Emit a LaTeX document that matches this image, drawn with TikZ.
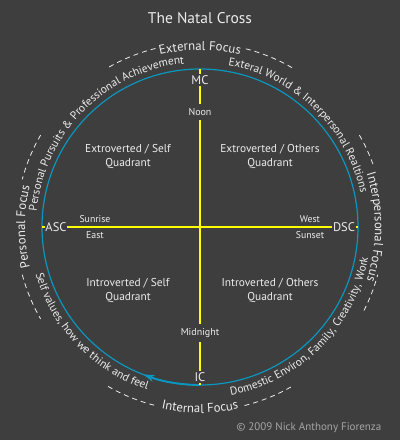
\documentclass[tikz,border=0pt]{standalone}
\usepackage{fontspec}
\setmainfont{PT Sans}
\usepackage{tikz}
\usetikzlibrary{positioning,calc,decorations.text,arrows.meta}
\definecolor{chartbg}{RGB}{62,62,62}
\definecolor{wheelblue}{RGB}{10,150,190}
\definecolor{crossyellow}{RGB}{255,255,0}
\definecolor{labelwhite}{RGB}{236,236,236}
\definecolor{creditgray}{RGB}{165,165,165}
\newcommand{\arcsmall}{\fontsize{11.4}{13}\selectfont}
\newcommand{\arcbig}{\fontsize{12.8}{15}\selectfont}

\begin{document}
\begin{tikzpicture}[x=1pt, y=1pt,
        % wheel and cross; the cross stops at the label borders
        wheel/.style={draw=wheelblue, line width=1.2pt},
        crossline/.style={draw=crossyellow, line width=2.4pt},
        cardinal/.style={text=labelwhite, font=\fontsize{12.5}{14}\selectfont, inner sep=1.5pt},
        timelbl/.style={text=labelwhite, font=\fontsize{10}{12}\selectfont, inner sep=4.5pt},
        sunlbl/.style={text=labelwhite, font=\fontsize{9.8}{11}\selectfont},
        quad/.style={text=labelwhite, align=center, font=\fontsize{11.4}{14}\selectfont},
        arctext/.style={decorate, decoration={text along path, text align=center,
            text={|\color{labelwhite}|#1}}},
        focusdash/.style={draw=labelwhite, line width=0.8pt, dash pattern=on 5pt off 4pt}
    ]
        \path[use as bounding box, fill=chartbg] (-200,-213) rectangle (200,227);

        \node[text=labelwhite, font=\fontsize{15.5}{18}\selectfont] (title) at (0,209) {The Natal Cross};

        % the wheel
        \draw[wheel] (0,0) circle[radius=158];
        \coordinate (top) at (90:158);
        \coordinate (bottom) at (270:158);
        \coordinate (west) at (180:158);
        \coordinate (east) at (0:158);
        \draw[wheel, line width=1.9pt, -{Stealth[length=11pt, width=7pt, inset=3pt]}]
            (bottom) arc[start angle=270, end angle=249, radius=158];

        % angles and times of day
        \node[cardinal] (mc) at (0,147) {MC};
        \node[cardinal] (ic) at (0,-150) {IC};
        \node[cardinal, inner sep=0.5pt] (asc) at (-144,0) {ASC};
        \node[cardinal, inner sep=0.5pt] (dsc) at (144,0) {DSC};
        \node[timelbl] (noon) at (0,115) {Noon};
        \node[timelbl] (midnight) at (0,-106) {Midnight};
        \node[sunlbl] (sunrise) at (-105,8) {Sunrise};
        \node[sunlbl] (sunriseeast) at (-105,-8) {East};
        \node[sunlbl] (sunsetwest) at (110,8) {West};
        \node[sunlbl] (sunset) at (110,-8) {Sunset};

        % Connections
        \draw[crossline] (top) -- (mc);
        \draw[crossline] (mc) -- (noon);
        \draw[crossline] (noon) -- (midnight);
        \draw[crossline] (midnight) -- (ic);
        \draw[crossline] (ic) -- (bottom);
        \draw[crossline] (west) -- (asc);
        \draw[crossline] (asc) -- (dsc);
        \draw[crossline] (dsc) -- (east);

        % quadrants
        \node[quad] (xself) at (-72,70.5) {Extroverted / Self\\Quadrant};
        \node[quad] (xothers) at (70,70.5) {Extroverted / Others\\Quadrant};
        \node[quad] (iself) at (-72,-63) {Introverted / Self\\Quadrant};
        \node[quad] (iothers) at (70,-63) {Introverted / Others\\Quadrant};

        % houses along the wheel
        \begin{scope}
            \arcsmall
            \path[arctext={Personal Pursuits {\&} Professional Achievement}]
                (179:164) arc[start angle=179, end angle=91, radius=164];
            \path[arctext={Exteral World {\&} Interpersonal Realtions}]
                (86:164) arc[start angle=86, end angle=6, radius=164];
            \path[arctext={Self values, how we think and feel}]
                (188:171) arc[start angle=188, end angle=260, radius=171];
            \path[arctext={Domestic Environ, Family, Creativity, Work}]
                (271:171) arc[start angle=271, end angle=359, radius=171];
        \end{scope}

        % focus labels
        \begin{scope}
            \arcbig
            \path[arctext={External Focus}]
                (112:177) arc[start angle=112, end angle=68, radius=177];
            \path[arctext={Interpersonal Focus}]
                (27:175) arc[start angle=27, end angle=-27, radius=175];
            \path[arctext={Personal Focus}]
                (205:175) arc[start angle=205, end angle=155, radius=175];
            \path[arctext={Internal Focus}]
                (248:186) arc[start angle=248, end angle=292, radius=186];
        \end{scope}

        \draw[focusdash] (60:184) arc[start angle=60, end angle=76, radius=184];
        \draw[focusdash] (104:184) arc[start angle=104, end angle=120, radius=184];
        \draw[focusdash] (150:184) arc[start angle=150, end angle=165, radius=184];
        \draw[focusdash] (195:184) arc[start angle=195, end angle=210, radius=184];
        \draw[focusdash] (240:184) arc[start angle=240, end angle=256, radius=184];
        \draw[focusdash] (284:184) arc[start angle=284, end angle=300, radius=184];
        \draw[focusdash] (-27:184) arc[start angle=-27, end angle=-15, radius=184];
        \draw[focusdash] (20:184) arc[start angle=20, end angle=31, radius=184];

        \node[text=creditgray, font=\fontsize{11}{13}\selectfont] (credit) at (109,-201) {© 2009 Nick Anthony Fiorenza};
    \end{tikzpicture}
\end{document}
